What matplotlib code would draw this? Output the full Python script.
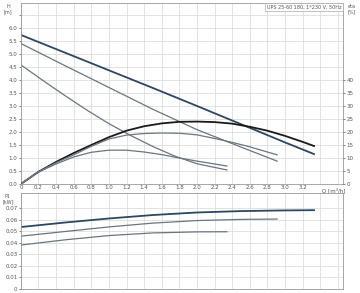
import numpy as np
import matplotlib.pyplot as plt

# pump curves, UPS 25-60 180 (speeds 1, 2, 3)
q_h3 = [0, 0.5, 1.0, 1.5, 2.0, 2.5, 3.0, 3.33]
h3 = [5.73, 5.05, 4.37, 3.69, 3.0, 2.3, 1.6, 1.15]
q_h2 = [0, 0.5, 1.0, 1.5, 2.0, 2.5, 2.91]
h2 = [5.40, 4.55, 3.71, 2.87, 2.09, 1.42, 0.88]
q_h1 = [0, 0.25, 0.5, 0.75, 1.0, 1.25, 1.5, 1.75, 2.0, 2.34]
h1 = [4.58, 3.98, 3.40, 2.84, 2.32, 1.86, 1.44, 1.07, 0.78, 0.54]

q_e3 = [0, 0.2, 0.4, 0.6, 0.8, 1.0, 1.2, 1.4, 1.6, 1.8, 2.0, 2.2, 2.4, 2.6, 2.8, 3.0, 3.2, 3.33]
eta3 = [0, 4.7, 8.5, 11.9, 15.0, 18.0, 20.5, 22.2, 23.3, 23.9, 24.0, 23.8, 23.2, 22.0, 20.5, 18.5, 16.2, 14.6]
q_e2 = [0, 0.2, 0.4, 0.6, 0.8, 1.0, 1.2, 1.4, 1.6, 1.8, 2.0, 2.2, 2.4, 2.6, 2.8, 2.91]
eta2 = [0, 4.7, 8.2, 11.2, 14.5, 17.3, 18.8, 19.4, 19.6, 19.5, 18.9, 17.5, 16.0, 14.3, 12.3, 11.2]
q_e1 = [0, 0.2, 0.4, 0.6, 0.8, 1.0, 1.2, 1.4, 1.6, 1.8, 2.0, 2.2, 2.34]
eta1 = [0, 4.6, 7.7, 10.4, 12.2, 13.0, 13.0, 12.3, 11.3, 10.0, 8.8, 7.7, 6.9]

q_p3 = [0, 0.5, 1.0, 1.5, 2.0, 2.5, 3.0, 3.33]
p3 = [0.0536, 0.0575, 0.0610, 0.0640, 0.0662, 0.0674, 0.0680, 0.0682]
q_p2 = [0, 0.5, 1.0, 1.5, 2.0, 2.5, 2.91]
p2 = [0.0457, 0.0497, 0.0537, 0.0570, 0.0592, 0.0602, 0.0605]
q_p1 = [0, 0.5, 1.0, 1.5, 2.0, 2.34]
p1 = [0.038, 0.0425, 0.0462, 0.0485, 0.0494, 0.0495]

dark = '#2c4763'
grey = '#6b7580'
black = '#1a1a1a'
fs = 4

fig = plt.figure(figsize=(3.6, 2.93), dpi=100)
ax = fig.add_axes([0.058, 0.372, 0.895, 0.618])
axp = fig.add_axes([0.058, 0.014, 0.895, 0.327])

for a in (ax, axp):
    a.set_xlim(0, 3.66)
    a.set_xticks(np.arange(0, 3.61, 0.2))
    a.grid(True, color='#dddddd', lw=0.6)
    a.set_axisbelow(True)
    for s in a.spines.values():
        s.set_color('#999999')
        s.set_linewidth(0.6)
    a.tick_params(labelsize=fs, colors='#555555', length=1.5, width=0.5, pad=1)

# top: head and efficiency
ax.set_ylim(0, 6.96)
ax.set_yticks(np.arange(0, 6.6, 0.5))
ax.set_yticklabels([f'{v:.1f}' if v <= 6.0 else '' for v in np.arange(0, 6.6, 0.5)])
ax.set_xticklabels([('0' if v == 0 else f'{v:.1f}') if v <= 3.25 else '' for v in np.arange(0, 3.61, 0.2)])
ax.tick_params(axis='x', length=0)

axe = ax.twinx()
axe.set_ylim(0, 69.6)
axe.set_yticks(np.arange(0, 41, 5))
axe.tick_params(labelsize=fs, colors='#555555', length=1.5, width=0.5, pad=1)
for s in axe.spines.values():
    s.set_visible(False)

ax.plot(q_h3, h3, color=dark, lw=1.3)
ax.plot(q_h2, h2, color=grey, lw=0.9)
ax.plot(q_h1, h1, color=grey, lw=0.9)
axe.plot(q_e3, eta3, color=black, lw=1.3)
axe.plot(q_e2, eta2, color=grey, lw=0.9)
axe.plot(q_e1, eta1, color=grey, lw=0.9)

fig.text(0.022, 0.988, 'H\n[m]', fontsize=3.5, color='#555555', va='top', ha='center', linespacing=1.1)
fig.text(0.978, 0.988, 'eta\n[%]', fontsize=3.5, color='#555555', va='top', ha='center', linespacing=1.1)
ax.text(0.995, 0.99, 'UPS 25-60 180, 1*230 V, 50Hz', transform=ax.transAxes, fontsize=3.5,
        color='#555555', ha='right', va='top',
        bbox=dict(boxstyle='square,pad=0.3', fc='white', ec='#aaaaaa', lw=0.5))
ax.text(3.55, -0.12, 'Q [m³/h]', fontsize=fs, color='#555555', ha='center', va='top')

# bottom: power
axp.set_ylim(0, 0.083)
axp.set_yticks(np.arange(0, 0.071, 0.01))
axp.set_yticklabels(['0'] + [f'{v:.2f}' for v in np.arange(0.01, 0.071, 0.01)])
axp.set_xticklabels([])
axp.tick_params(axis='x', length=0)
axp.plot(q_p3, p3, color=dark, lw=1.3)
axp.plot(q_p2, p2, color=grey, lw=0.9)
axp.plot(q_p1, p1, color=grey, lw=0.9)
fig.text(0.022, 0.338, 'P1\n[kW]', fontsize=3.5, color='#555555', va='top', ha='center', linespacing=1.1)

fig.savefig('out.png', dpi=100)
